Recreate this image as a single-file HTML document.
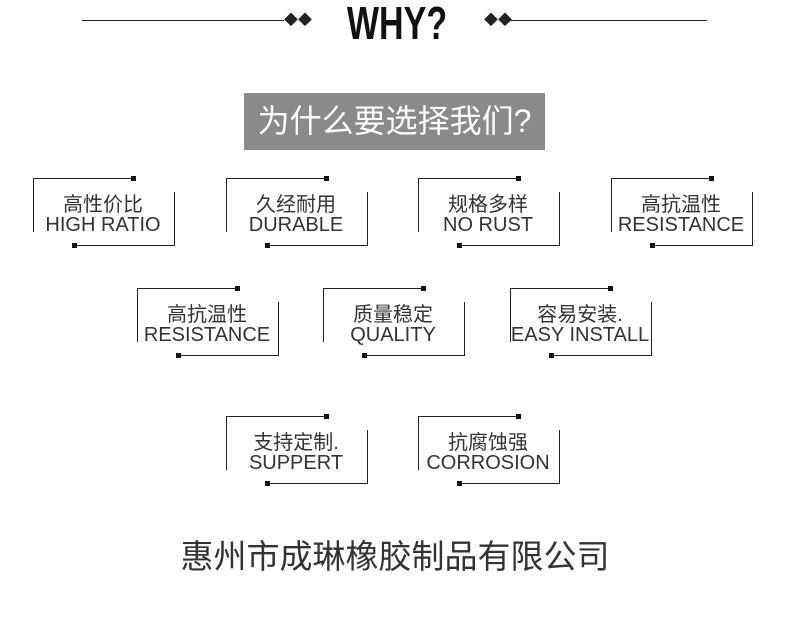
<!DOCTYPE html>
<html><head><meta charset="utf-8"><style>
body{margin:0;width:790px;height:622px;background:#fff;position:relative;overflow:hidden;font-family:"Liberation Sans","Noto Sans CJK SC",sans-serif;color:#222}
.a{position:absolute}
.b{position:absolute;width:142px;height:68px}
.b .t{position:absolute;left:0;top:0;width:100px;height:1px;background:#222}
.b .l{position:absolute;left:0;top:0;width:1px;height:54px;background:#222}
.b .r{position:absolute;right:0;top:14px;width:1px;height:54px;background:#222}
.b .bo{position:absolute;left:41px;bottom:0;width:101px;height:1px;background:#222}
.b .s1{position:absolute;left:98px;top:-2px;width:5px;height:5px;background:#111}
.b .s2{position:absolute;left:39px;bottom:-2px;width:5px;height:5px;background:#111}
.b .x{position:absolute;left:-9px;width:158px;top:17px;text-align:center;font-size:20px;line-height:20px;color:#333}
</style></head><body>
<div class="a" style="left:82px;top:20px;width:202px;height:1px;background:#222"></div>
<div class="a" style="left:284px;top:13px;font-size:14px;line-height:14px">◆◆</div>
<div class="a" style="left:330px;top:0;width:130px;text-align:center;font-size:46px;line-height:46px;font-weight:bold;transform:scaleX(0.74);color:#111">WHY?</div>
<div class="a" style="left:484px;top:13px;font-size:14px;line-height:14px">◆◆</div>
<div class="a" style="left:504px;top:20px;width:203px;height:1px;background:#222"></div>
<div class="a" style="left:244px;top:93px;width:301px;height:57px;background:#8a8a8a;color:#fff;font-size:32px;line-height:57px;text-align:center">为什么要选择我们?</div>

<div class="b" style="left:33px;top:178px"><i class="t"></i><i class="l"></i><i class="r"></i><i class="bo"></i><i class="s1"></i><i class="s2"></i><div class="x">高性价比<br>HIGH RATIO</div></div>
<div class="b" style="left:226px;top:178px"><i class="t"></i><i class="l"></i><i class="r"></i><i class="bo"></i><i class="s1"></i><i class="s2"></i><div class="x">久经耐用<br>DURABLE</div></div>
<div class="b" style="left:418px;top:178px"><i class="t"></i><i class="l"></i><i class="r"></i><i class="bo"></i><i class="s1"></i><i class="s2"></i><div class="x">规格多样<br>NO RUST</div></div>
<div class="b" style="left:611px;top:178px"><i class="t"></i><i class="l"></i><i class="r"></i><i class="bo"></i><i class="s1"></i><i class="s2"></i><div class="x">高抗温性<br>RESISTANCE</div></div>
<div class="b" style="left:137px;top:288px"><i class="t"></i><i class="l"></i><i class="r"></i><i class="bo"></i><i class="s1"></i><i class="s2"></i><div class="x">高抗温性<br>RESISTANCE</div></div>
<div class="b" style="left:323px;top:288px"><i class="t"></i><i class="l"></i><i class="r"></i><i class="bo"></i><i class="s1"></i><i class="s2"></i><div class="x">质量稳定<br>QUALITY</div></div>
<div class="b" style="left:510px;top:288px"><i class="t"></i><i class="l"></i><i class="r"></i><i class="bo"></i><i class="s1"></i><i class="s2"></i><div class="x">容易安装.<br>EASY INSTALL</div></div>
<div class="b" style="left:226px;top:416px"><i class="t"></i><i class="l"></i><i class="r"></i><i class="bo"></i><i class="s1"></i><i class="s2"></i><div class="x">支持定制.<br>SUPPERT</div></div>
<div class="b" style="left:418px;top:416px"><i class="t"></i><i class="l"></i><i class="r"></i><i class="bo"></i><i class="s1"></i><i class="s2"></i><div class="x">抗腐蚀强<br>CORROSION</div></div>

<div class="a" style="left:145px;top:536px;width:500px;text-align:center;font-size:33px;line-height:42px;color:#333">惠州市成琳橡胶制品有限公司</div>
</body></html>
